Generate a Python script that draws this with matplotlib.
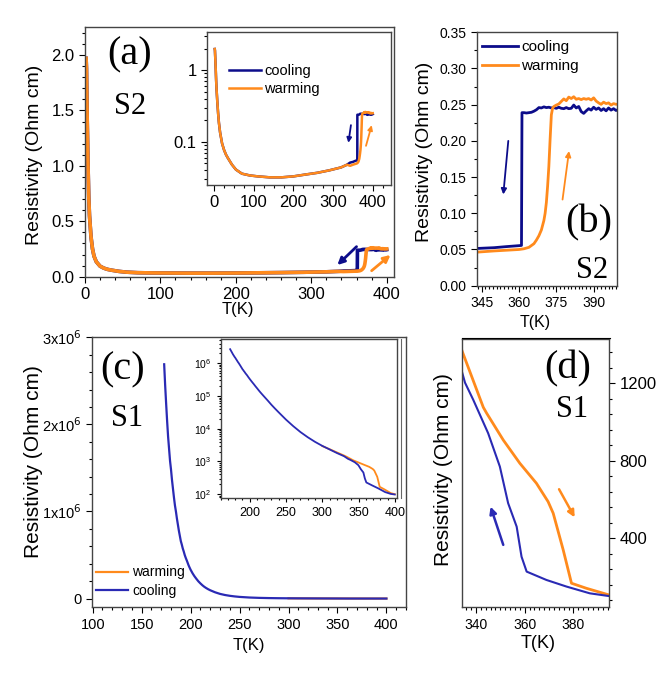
import numpy as np
import matplotlib.pyplot as plt
from matplotlib.ticker import MultipleLocator, FixedLocator, FuncFormatter, LogLocator, NullFormatter
from matplotlib.lines import Line2D

plt.rcParams['font.family'] = ['Liberation Sans', 'DejaVu Sans']

# S2 - low temperature part (cooling and warming are on top of each other)
T_s2_low = [1.5, 2, 3, 4, 5, 6, 8, 10, 12, 15, 20, 25, 30, 35, 45, 55, 70, 90, 110,
            140, 170, 200, 230, 260, 290, 320, 335]
R_s2_low = [1.97, 1.88, 1.4, 1.02, 0.72, 0.55, 0.36, 0.25, 0.185, 0.135, 0.095, 0.077,
            0.066, 0.059, 0.048, 0.041, 0.036, 0.034, 0.033, 0.032, 0.032, 0.033,
            0.035, 0.037, 0.040, 0.044, 0.048]

# S2 - transition region, panel (b)
T_s2_cool = [343, 350, 355, 360, 361, 361.2, 362, 363, 364, 365, 366, 367, 368, 369, 370,
             371, 372, 373, 374, 375, 376, 377, 378, 379, 380, 381, 382, 383, 384, 385,
             386, 387, 388, 389, 390, 391, 392, 393, 394, 395, 396, 397, 398, 399, 400]
R_s2_cool = [0.0514, 0.0525, 0.054, 0.0553, 0.0556, 0.239, 0.239, 0.2385, 0.239, 0.2395,
             0.241, 0.243, 0.246, 0.2455, 0.247, 0.246, 0.2465, 0.2455, 0.246, 0.245,
             0.2465, 0.245, 0.2445, 0.246, 0.2445, 0.245, 0.2495, 0.2455, 0.2475, 0.2405,
             0.238, 0.2415, 0.2445, 0.2425, 0.2465, 0.2435, 0.2455, 0.242, 0.2445, 0.2415,
             0.2455, 0.2425, 0.2445, 0.242, 0.2435]

T_s2_warm = [343, 350, 355, 360, 362, 364, 366, 367, 368, 369, 370, 370.5, 371, 371.5, 372,
             372.5, 373, 373.5, 374, 375, 376, 377, 378, 379, 380, 381, 382, 383, 384, 385,
             386, 387, 388, 389, 390, 391, 392, 393, 394, 395, 396, 397, 398, 399, 400]
R_s2_warm = [0.0463, 0.048, 0.049, 0.050, 0.051, 0.053, 0.058, 0.063, 0.069, 0.077, 0.090,
             0.100, 0.115, 0.1375, 0.165, 0.202, 0.236, 0.245, 0.2475, 0.2495, 0.251,
             0.2545, 0.258, 0.2555, 0.2605, 0.2585, 0.261, 0.2575, 0.2585, 0.257, 0.2585,
             0.2575, 0.2585, 0.2565, 0.2595, 0.255, 0.2525, 0.2505, 0.2535, 0.2515, 0.2525,
             0.2495, 0.2515, 0.2505, 0.251]

# S1
T_s1_cool = [173, 174, 175, 176, 177, 178, 179, 180, 181, 182, 183, 184, 185, 186, 187, 188,
             189, 190, 191, 192, 193, 194, 195, 196, 197, 198, 199, 200, 202, 204, 206, 208,
             210, 212, 214, 216, 218, 220, 225, 230, 235, 240, 245, 250, 260, 270, 280, 290,
             300, 310, 320, 330, 335.5, 338.9, 345, 349.8, 353.2, 356.7, 358.7, 360.8,
             368.9, 377.1, 386.7, 394.5, 400]
R_s1_cool = [2.69e6, 2.45e6, 2.24e6, 2.04e6, 1.86e6, 1.72e6, 1.58e6, 1.48e6, 1.36e6, 1.26e6,
             1.16e6, 1.07e6, 1.0e6, 9.2e5, 8.5e5, 7.8e5, 7.2e5, 6.6e5, 6.2e5, 5.75e5, 5.4e5,
             5.0e5, 4.68e5, 4.4e5, 4.1e5, 3.8e5, 3.55e5, 3.31e5, 2.9e5, 2.55e5, 2.25e5,
             1.97e5, 1.74e5, 1.53e5, 1.35e5, 1.2e5, 1.07e5, 9.55e4, 7.2e4, 5.37e4, 4.1e4,
             3.16e4, 2.45e4, 1.9e4, 1.2e4, 7.9e3, 5.5e3, 3.98e3, 3.0e3, 2.34e3, 1.82e3,
             1.45e3, 1203, 1114, 942, 770, 581, 460, 305, 228, 185, 151, 116, 102, 98]
T_s1_warm = [300, 310, 320, 330, 334.4, 343, 344.4, 351.2, 358, 364.8, 369.6, 371.7, 375.8,
             379.2, 385.3, 394.5, 400]
R_s1_warm = [2950, 2380, 1900, 1520, 1363, 1076, 1045, 907, 787, 684, 589, 529, 340, 168,
             142, 108, 100]

navy = '#0c0c8a'
blue = '#2a2ab4'
orange = '#ff8a1c'

fig = plt.figure(figsize=(6.68, 6.77), dpi=100)


def ticks_style(ax, size):
    ax.tick_params(which='both', direction='out', labelsize=size, width=0.8)
    ax.tick_params(which='major', length=4)
    ax.tick_params(which='minor', length=2)
    for s in ax.spines.values():
        s.set_color('#444444')
        s.set_linewidth(1.0)


def arrow(ax, start, end, color, lw=1.6, ms=10):
    ax.annotate('', xy=end, xytext=start,
                arrowprops=dict(arrowstyle='-|>', color=color, lw=lw, mutation_scale=ms,
                                shrinkA=0, shrinkB=0))


# ---------------- (a)
ax = fig.add_axes([0.1272, 0.5913, 0.463, 0.3684])
ax.plot(T_s2_low + T_s2_cool, R_s2_low + R_s2_cool, color=navy, lw=2.6)
ax.plot(T_s2_low + T_s2_warm, R_s2_low + R_s2_warm, color=orange, lw=2.6)
ax.set_xlim(0, 410)
ax.set_ylim(0, 2.25)
ax.xaxis.set_major_locator(MultipleLocator(100))
ax.xaxis.set_minor_locator(MultipleLocator(20))
ax.yaxis.set_major_locator(MultipleLocator(0.5))
ax.yaxis.set_minor_locator(MultipleLocator(0.1))
ax.yaxis.set_major_formatter(FuncFormatter(lambda v, p: '%.1f' % v))
ticks_style(ax, 12)
ax.set_ylabel('Resistivity (Ohm cm)', fontsize=14)
ax.set_xlabel('T(K)', fontsize=12)
ax.yaxis.set_label_coords(-0.135, 0.49)
ax.xaxis.set_label_coords(0.495, -0.1)
arrow(ax, (360, 0.271), (334.6, 0.105), navy, lw=2)
arrow(ax, (380, 0.054), (405, 0.196), orange, lw=2)

# inset (a)
ax = fig.add_axes([0.3099, 0.7267, 0.2754, 0.226])
ax.plot(T_s2_low + T_s2_cool, R_s2_low + R_s2_cool, color=navy, lw=1.8, label='cooling')
ax.plot(T_s2_low + T_s2_warm, R_s2_low + R_s2_warm, color=orange, lw=1.8, label='warming')
ax.set_yscale('log')
ax.set_xlim(-18, 446)
ax.set_ylim(0.025, 3.4)
ax.xaxis.set_major_locator(MultipleLocator(100))
ax.xaxis.set_minor_locator(MultipleLocator(25))
ax.yaxis.set_major_locator(FixedLocator([0.1, 1]))
ax.yaxis.set_major_formatter(FuncFormatter(lambda v, p: '%g' % v))
ax.yaxis.set_minor_locator(LogLocator(subs=np.arange(2, 10)))
ax.yaxis.set_minor_formatter(NullFormatter())
ticks_style(ax, 12)
ax.legend(loc='upper left', bbox_to_anchor=(0.12, 0.79), frameon=False, fontsize=10.5,
          borderpad=0, borderaxespad=0, handlelength=2.2, handletextpad=0.2, labelspacing=0.25)
arrow(ax, (345, 0.171), (338.6, 0.097), navy, lw=1.3, ms=7)
arrow(ax, (383, 0.088), (397.4, 0.171), orange, lw=1.3, ms=7)

# ---------------- (b)
ax = fig.add_axes([0.7136, 0.578, 0.2105, 0.3743])
ax.plot(T_s2_cool, R_s2_cool, color=navy, lw=2, label='cooling')
ax.plot(T_s2_warm, R_s2_warm, color=orange, lw=2, label='warming')
ax.set_xlim(343, 399.5)
ax.set_ylim(0, 0.35)
ax.xaxis.set_major_locator(MultipleLocator(15))
ax.xaxis.set_minor_locator(MultipleLocator(1.5))
ax.yaxis.set_major_locator(MultipleLocator(0.05))
ax.yaxis.set_minor_locator(MultipleLocator(0.025))
ax.yaxis.set_major_formatter(FuncFormatter(lambda v, p: '%.2f' % v))
ticks_style(ax, 10)
ax.set_ylabel('Resistivity (Ohm cm)', fontsize=14)
ax.set_xlabel('T(K)', fontsize=11.5)
ax.yaxis.set_label_coords(-0.31, 0.527)
ax.xaxis.set_label_coords(0.415, -0.116)
ax.legend(loc='upper left', bbox_to_anchor=(0.036, 0.97), frameon=False, fontsize=11,
          borderpad=0, borderaxespad=0, handlelength=2.4, handletextpad=0.2, labelspacing=0.35)
arrow(ax, (355.7, 0.2), (353.7, 0.126), navy, lw=1.3, ms=8)
arrow(ax, (377.5, 0.119), (380.1, 0.186), orange, lw=1.3, ms=8)

# ---------------- (c)
ax = fig.add_axes([0.1373, 0.1030, 0.4705, 0.3988])
ax.plot(T_s1_warm, R_s1_warm, color=orange, lw=1.6, label='warming')
ax.plot(T_s1_cool, R_s1_cool, color=blue, lw=1.6, label='cooling')
ax.set_xlim(99, 420)
ax.set_ylim(-0.1e6, 3.0e6)
ax.xaxis.set_major_locator(MultipleLocator(50))
ax.xaxis.set_minor_locator(MultipleLocator(10))
ax.yaxis.set_major_locator(MultipleLocator(1e6))
ax.yaxis.set_minor_locator(MultipleLocator(0.2e6))
ax.yaxis.set_major_formatter(FuncFormatter(
    lambda v, p: '0' if v == 0 else r'%dx10$^{6}$' % round(v / 1e6)))
ticks_style(ax, 10.5)
ax.set_ylabel('Resistivity (Ohm cm)', fontsize=15)
ax.set_xlabel('T(K)', fontsize=12)
ax.yaxis.set_label_coords(-0.154, 0.539)
ax.xaxis.set_label_coords(0.501, -0.115)
ax.legend(loc='lower left', bbox_to_anchor=(0.014, 0.036), frameon=False, fontsize=10,
          borderpad=0, borderaxespad=0, handlelength=2.3, handletextpad=0.3, labelspacing=0.3)

# inset (c)
ax = fig.add_axes([0.3304, 0.2648, 0.2644, 0.2344])
ax.plot(T_s1_warm, R_s1_warm, color=orange, lw=1.3)
ax.plot(T_s1_cool, R_s1_cool, color=blue, lw=1.3)
ax.set_yscale('log')
ax.set_xlim(160, 403.5)
ax.set_ylim(78, 5.5e6)
ax.xaxis.set_major_locator(MultipleLocator(50))
ax.xaxis.set_minor_locator(MultipleLocator(10))
ax.yaxis.set_major_locator(LogLocator(numticks=10))
ax.yaxis.set_minor_locator(LogLocator(subs=np.arange(2, 10), numticks=10))
ax.yaxis.set_minor_formatter(NullFormatter())
ticks_style(ax, 9)
ax.tick_params(axis='y', labelsize=7.5)
ax.tick_params(which='major', length=3)
ax.tick_params(which='minor', length=1.5)
# second frame line at the right of the inset picture
ax.axvline(403.5 + (403.5 - 160) * 0.018, color='#666666', lw=0.8, clip_on=False)

# ---------------- (d)
ax = fig.add_axes([0.6921, 0.1030, 0.2196, 0.3959])
ax.plot(T_s1_warm, R_s1_warm, color=orange, lw=2)
ax.plot(T_s1_cool, R_s1_cool, color=blue, lw=1.5)
ax.set_xlim(334.4, 394.6)
ax.set_ylim(44, 1427)
ax.xaxis.set_major_locator(MultipleLocator(20))
ax.xaxis.set_minor_locator(MultipleLocator(2))
ax.yaxis.set_major_locator(MultipleLocator(400))
ax.yaxis.set_minor_locator(MultipleLocator(80))
ax.yaxis.tick_right()
ax.yaxis.set_label_position('left')
ticks_style(ax, 10)
ax.tick_params(axis='y', labelsize=12)
ax.set_ylabel('Resistivity (Ohm cm)', fontsize=15)
ax.set_xlabel('T(K)', fontsize=13)
ax.yaxis.set_label_coords(-0.061, 0.512)
ax.xaxis.set_label_coords(0.518, -0.103)
arrow(ax, (351.2, 366), (346, 563), blue, lw=1.8, ms=10)
arrow(ax, (374.1, 653), (380.5, 508), orange, lw=1.8, ms=10)

# panel letters
for x, y, s, size in [(130, 55, '(a)', 29), (130, 106, 'S2', 22),
                      (589, 223, '(b)', 29), (592, 271, 'S2', 22),
                      (123, 370, '(c)', 29), (127, 418, 'S1', 22),
                      (568, 369, '(d)', 29), (572, 410, 'S1', 22)]:
    fig.text(x / 668, 1 - y / 677, s, fontsize=size, family='Liberation Serif',
             ha='center', va='center')

fig.add_artist(Line2D([462 / 668, 610 / 668], [1 - 338 / 677, 1 - 338 / 677],
                      color='black', lw=0.8))

fig.savefig('out.png', dpi=100)
